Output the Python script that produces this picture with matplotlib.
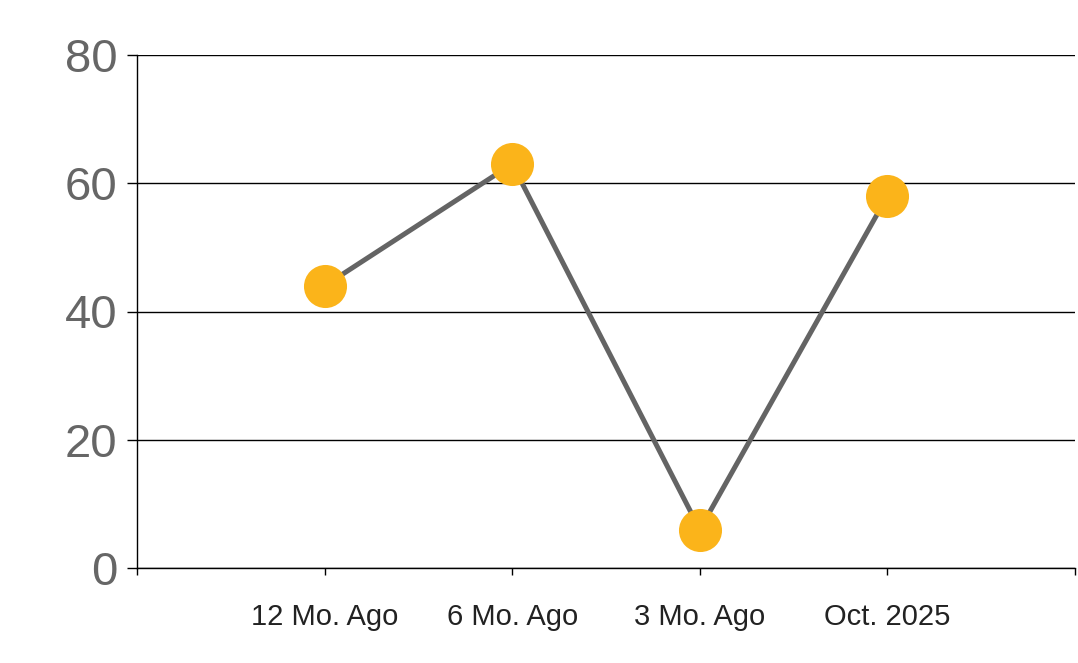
import matplotlib
matplotlib.use("Agg")
import matplotlib.pyplot as plt
from matplotlib.ticker import FixedLocator

categories = ["12 Mo. Ago", "6 Mo. Ago", "3 Mo. Ago", "Oct. 2025"]
values = [44, 63, 6, 58]
yticks = [0, 20, 40, 60, 80]

plt.rcParams['font.family'] = ['Liberation Sans', 'DejaVu Sans']

fig = plt.figure(figsize=(10.78, 6.63), dpi=100)
W, H = 1078, 663
ax = fig.add_axes([137 / W, (H - 568) / H, (1075 - 137) / W, (568 - 55) / H])

xs = list(range(1, len(categories) + 1))
ax.plot(xs, values, color="#646464", linewidth=3.6, zorder=3,
        marker="o", markersize=31, markerfacecolor="#FBB41A",
        markeredgecolor="#FBB41A", markeredgewidth=0)

ax.set_xlim(0, len(categories) + 1)
ax.set_ylim(0, 80)

ax.set_yticks(yticks)
ax.set_yticklabels([str(v) for v in yticks])
ax.yaxis.grid(True, color="black", linewidth=1.0)
ax.set_axisbelow(True)
ax.tick_params(axis="y", length=7, width=1.0, color="black", pad=7,
               labelsize=34, labelcolor="#666666")

ax.set_xticks(xs)
ax.set_xticklabels(categories)
ax.xaxis.set_minor_locator(FixedLocator([0, len(categories) + 1]))
ax.tick_params(axis="x", which="major", length=5, width=1.0, color="black",
               pad=20, labelsize=21, labelcolor="#222222")
ax.tick_params(axis="x", which="minor", length=5, width=1.0, color="black")

for s in ["top", "right"]:
    ax.spines[s].set_visible(False)
for s in ["left", "bottom"]:
    ax.spines[s].set_color("black")
    ax.spines[s].set_linewidth(1.0)

fig.savefig("out.png", dpi=100, facecolor="white")
